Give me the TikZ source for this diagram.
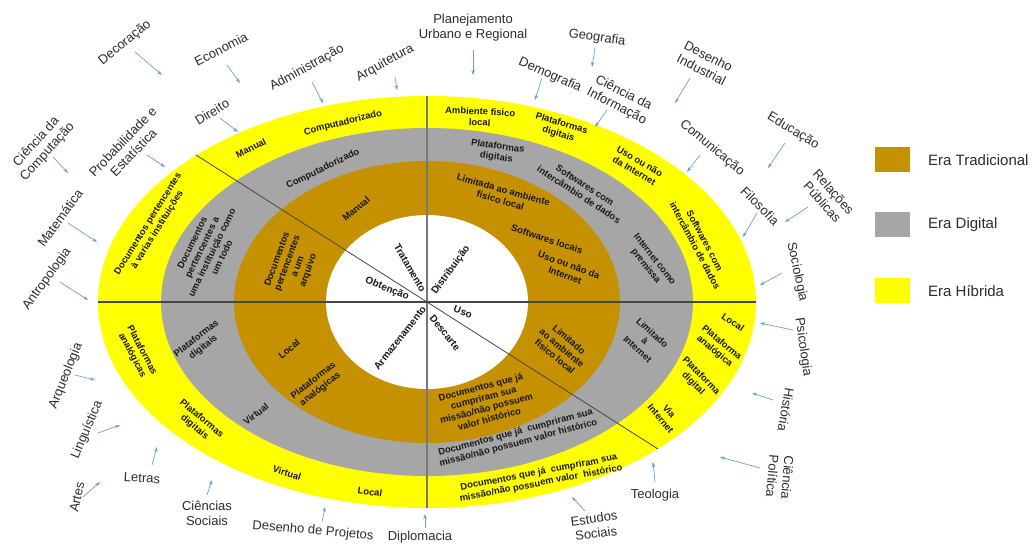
\documentclass[tikz,border=0pt]{standalone}
\usepackage{fontspec}
\setmainfont{Liberation Sans}
\usetikzlibrary{arrows.meta}
\definecolor{eyellow}{RGB}{255,255,0}
\definecolor{egray}{RGB}{166,166,166}
\definecolor{ebrown}{RGB}{197,145,0}
\definecolor{arrowblue}{RGB}{110,160,205}
\definecolor{disctext}{RGB}{45,45,45}
\definecolor{linedark}{RGB}{70,70,70}
\definecolor{linegray}{RGB}{120,120,120}
\begin{document}
\begin{tikzpicture}[x=1pt,y=-1pt,
 ring/.style={font=\bfseries\fontsize{9.4}{11}\selectfont, align=center, inner sep=0pt, text=black!90},
 ctr/.style={font=\bfseries\fontsize{10}{11}\selectfont, inner sep=0pt, text=black!90},
 disc/.style={font=\fontsize{13}{15}\selectfont, align=center, inner sep=0pt, text=disctext},
 arr/.style={draw=arrowblue, line width=0.7pt, -{Stealth[length=5pt,width=3.5pt]}},
 legbox/.style={minimum width=35pt, minimum height=25pt, inner sep=0pt},
 legtext/.style={font=\fontsize{15}{17}\selectfont, anchor=west, inner sep=0pt, text=disctext}]
\useasboundingbox (0,0) rectangle (1032,543);
\fill[white] (0,0) rectangle (1032,543);
\coordinate (C) at (427,302);
% rings
\fill[eyellow] (C) ellipse [x radius=329pt, y radius=206pt];
\fill[egray] (C) ellipse [x radius=266pt, y radius=174pt];
\fill[ebrown] (C) ellipse [x radius=193pt, y radius=141pt];
\fill[white] (C) ellipse [x radius=101pt, y radius=87pt];
% dividing lines
\coordinate (L) at (98,302);
\coordinate (R) at (756,302);
\coordinate (T) at (427,96);
\coordinate (B) at (427,508);
\coordinate (DA) at (196,155);
\coordinate (DB) at (658,449);
\draw[linegray, line width=1.1pt] (T) -- (B);
\draw[linedark, line width=0.8pt] (DA) -- (DB);
\draw[linedark, line width=1.6pt] (L) -- (R);
% yellow ring labels
\node[ring, rotate=14] (y1) at (343,123) {Computadorizado};
\node[ring, rotate=26] (y2) at (251,148) {Manual};
\node[ring, rotate=58] (y3) at (153,227) {Documentos pertencentes\\à varias instituições};
\node[ring, rotate=-3] (y4) at (480,117) {Ambiente fisico\\local};
\node[ring, rotate=-17] (y5) at (560,129) {Plataformas\\digitais};
\node[ring, rotate=-30] (y6) at (637,166) {Uso ou não\\da Internet};
\node[ring, rotate=-62] (y7) at (700,243) {Softwares com\\intercâmbio de dados};
\node[ring, rotate=-33] (y8) at (733,322) {Local};
\node[ring, rotate=-40] (y9) at (718,347) {Plataforma\\analógica};
\node[ring, rotate=-45] (y10) at (697,380) {Plataforma\\digital};
\node[ring, rotate=-50] (y11) at (665,415) {Via\\Internet};
\node[ring, rotate=11] (y12) at (540,478) {Documentos que já\ \ cumpriram sua\\missão/não possuem valor\ \ histórico};
\node[ring, rotate=-8] (y13) at (370,492) {Local};
\node[ring, rotate=-18] (y14) at (287,473) {Virtual};
\node[ring, rotate=-40] (y15) at (198,423) {Plataformas\\digitais};
\node[ring, rotate=-62] (y16) at (137,353) {Plataformas\\analógicas};
% gray ring labels
\node[ring, rotate=26] (g1) at (323,169) {Computadorizado};
\node[ring, rotate=64] (g2) at (207,250) {Documentos\\pertencentes a\\uma instituição como\\um todo};
\node[ring, rotate=-8] (g3) at (497,152) {Plataformas\\digitais};
\node[ring, rotate=-33] (g4) at (582,190) {Softwares com\\intercâmbio de dados};
\node[ring, rotate=-52] (g5) at (650,263) {Internet como\\premissa};
\node[ring, rotate=-42] (g6) at (645,341) {Limitado\\à\\Internet};
\node[ring, rotate=15] (g7) at (517,438) {Documentos que já\ \ cumpriram sua\\missão/não possuem valor histórico};
\node[ring, rotate=38] (g8) at (256,414) {Virtual};
\node[ring, rotate=38] (g9) at (200,343) {Plataformas\\digitais};
% brown ring labels
\node[ring, rotate=40] (b1) at (356,209) {Manual};
\node[ring, rotate=70] (b2) at (293,265) {Documentos\\pertencentes\\a um\\arquivo};
\node[ring, rotate=-16] (b3) at (502,195) {Limitada ao ambiente\\fisico local};
\node[ring, rotate=-18] (b4) at (547,239) {Softwares locais};
\node[ring, rotate=-20] (b5) at (567,270) {Uso ou não da\\Internet};
\node[ring, rotate=-40] (b6) at (562,348) {Limitado\\ao ambiente\\fisico local};
\node[ring, rotate=15] (b7) at (485,403) {Documentos que já\\cumpriram sua\\missão/não possuem\\valor histórico};
\node[ring, rotate=40] (b8) at (289,349) {Local};
\node[ring, rotate=38] (b9) at (317,385) {Plataformas\\analógicas};
% centre labels
\node[ctr, rotate=-60] (c1) at (410,268) {Tratamento};
\node[ctr, rotate=-22] (c2) at (387,289) {Obtenção};
\node[ctr, rotate=54] (c3) at (451,270) {Distribuição};
\node[ctr, rotate=-20] (c4) at (463,312) {Uso};
\node[ctr, rotate=-51] (c5) at (445,333) {Descarte};
\node[ctr, rotate=52] (c6) at (400,338) {Armazenamento};
% disciplines with arrows
\foreach \i/\x/\y/\r/\t/\ax/\ay/\bx/\by in {
 1/125/43/39/{Decoração}/135/52/162/75,
 2/221/49/27/{Economia}/227/65/240/83,
 3/307/68/29/{Administração}/312/82/323/103,
 4/385/63/29/{Arquitetura}/395/77/397/90,
 5/212/112/32/{Direito}/220/118/238/132,
 6/42/147/48/{Ciência da\\Computação}/53/157/68/173,
 7/128/147/46/{Probabilidade e\\Estatística}/147/155/165/167,
 8/60/218/54/{Matemática}/68/223/97/242,
 9/47/279/54/{Antropologia}/60/282/88/300,
 10/473/28/0/{Planejamento\\Urbano e Regional}/473/50/473/75,
 11/597/38/-8/{Geografia}/595/48/592/67,
 12/550/75/-24/{Demografia}/542/78/535/100,
 13/620/100/-27/{Ciência da\\Informação}/607/110/595/127,
 14/705/63/-27/{Desenho\\Industrial}/690/78/675/103,
 15/712/148/-40/{Comunicação}/700/155/687/172,
 16/793/131/-31/{Educação}/785/143/768/168,
 17/760/206/-45/{Filosofia}/757/213/743/237,
 18/828/197/-48/{Relações\\Públicas}/808/207/785/222,
 19/797/272/-78/{Sociologia}/782/273/760/285,
 20/803/347/-82/{Psicologia}/793/330/760/323,
 21/786/410/-100/{História}/773/400/752/393,
 22/780/477/-95/{Ciência\\Política}/760/468/720/457,
 23/655/495/0/{Teologia}/655/482/653/462,
 24/595/526/8/{Estudos\\Sociais}/585/511/572/497,
 25/420/537/0/{Diplomacia}/425/528/425/514,
 26/313/531/-5/{Desenho de Projetos}/322/522/325/507,
 27/207/513/0/{Ciências\\Sociais}/207/495/212/480,
 28/142/478/-3/{Letras}/152/465/157/447,
 29/77/497/78/{Artes}/83/497/100/482,
 30/87/430/67/{Linguística}/98/433/120/425,
 31/66/376/68/{Arqueologia}/75/375/95/380}{
 \node[disc, rotate=\r] (d\i) at (\x,\y) {\t};
 \coordinate (s\i) at (\ax,\ay);
 \coordinate (e\i) at (\bx,\by);
 \draw[arr] (s\i) -- (e\i);
}
% legend
\node[legbox, fill=ebrown] (lb1) at (892.5,159.5) {};
\node[legbox, fill=egray] (lb2) at (892.5,224.5) {};
\node[legbox, fill=eyellow] (lb3) at (892.5,290.5) {};
\node[legtext] (lt1) at (928,160) {Era Tradicional};
\node[legtext] (lt2) at (928,225) {Era Digital};
\node[legtext] (lt3) at (928,291) {Era Híbrida};
\end{tikzpicture}
\end{document}
